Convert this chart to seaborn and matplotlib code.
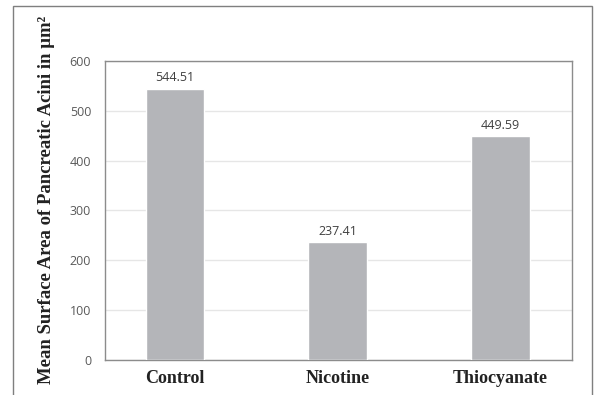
import matplotlib
matplotlib.use("Agg")
import matplotlib.pyplot as plt
import seaborn as sns
import pandas as pd
from matplotlib.patches import Rectangle

# data
groups = ["Control", "Nicotine", "Thiocyanate"]
mean_area = [544.51, 237.41, 449.59]
y_ticks = [0, 100, 200, 300, 400, 500, 600]

df = pd.DataFrame({"group": groups, "area": mean_area})

sns.set_style("white")

fig = plt.figure(figsize=(5.98, 3.95), dpi=100)
ax = fig.add_axes([0.1756, 0.0886, 0.781, 0.757])

sns.barplot(data=df, x="group", y="area", color="#b4b5b9", saturation=1,
            width=0.36, ax=ax, zorder=3)

ax.set_xlim(-0.43, 2.44)
ax.set_ylim(0, 600)
ax.set_yticks(y_ticks)
ax.yaxis.grid(True, color="#e6e6e6", linewidth=1, zorder=0)
ax.set_axisbelow(True)

for s in ax.spines.values():
    s.set_color("#8c8c8c")
    s.set_linewidth(1)
    s.set_visible(True)

ax.tick_params(axis="y", length=0, pad=10, labelsize=9, labelcolor="#595959")
ax.tick_params(axis="x", length=0, pad=7)
for lab in ax.get_yticklabels():
    lab.set_fontfamily("Open Sans")
for lab in ax.get_xticklabels():
    lab.set_fontfamily("Liberation Serif")
    lab.set_fontweight("bold")
    lab.set_fontsize(13)
    lab.set_color("#222222")

ax.set_xlabel("")
ax.set_ylabel("")

for p, v in zip(ax.patches, mean_area):
    ax.annotate(f"{v:.2f}", (p.get_x() + p.get_width() / 2, p.get_height()),
                xytext=(0, 3), textcoords="offset points", ha="center",
                va="bottom", fontsize=9, color="#404040", family="Open Sans")

fig.text(47 / 598, (395 - 200) / 395,
         "Mean Surface Area of Pancreatic Acini in μm²",
         rotation=90, ha="center", va="center", family="Liberation Serif",
         fontweight="bold", fontsize=13.5, color="#222222")

# outer frame of the figure panel (bottom cut off)
fig.patches.append(Rectangle((13 / 598, -0.05), (592 - 13) / 598, 1.05 - 6 / 395,
                             transform=fig.transFigure, fill=False,
                             edgecolor="#7f7f7f", linewidth=1))

fig.savefig("out.png", dpi=100)
